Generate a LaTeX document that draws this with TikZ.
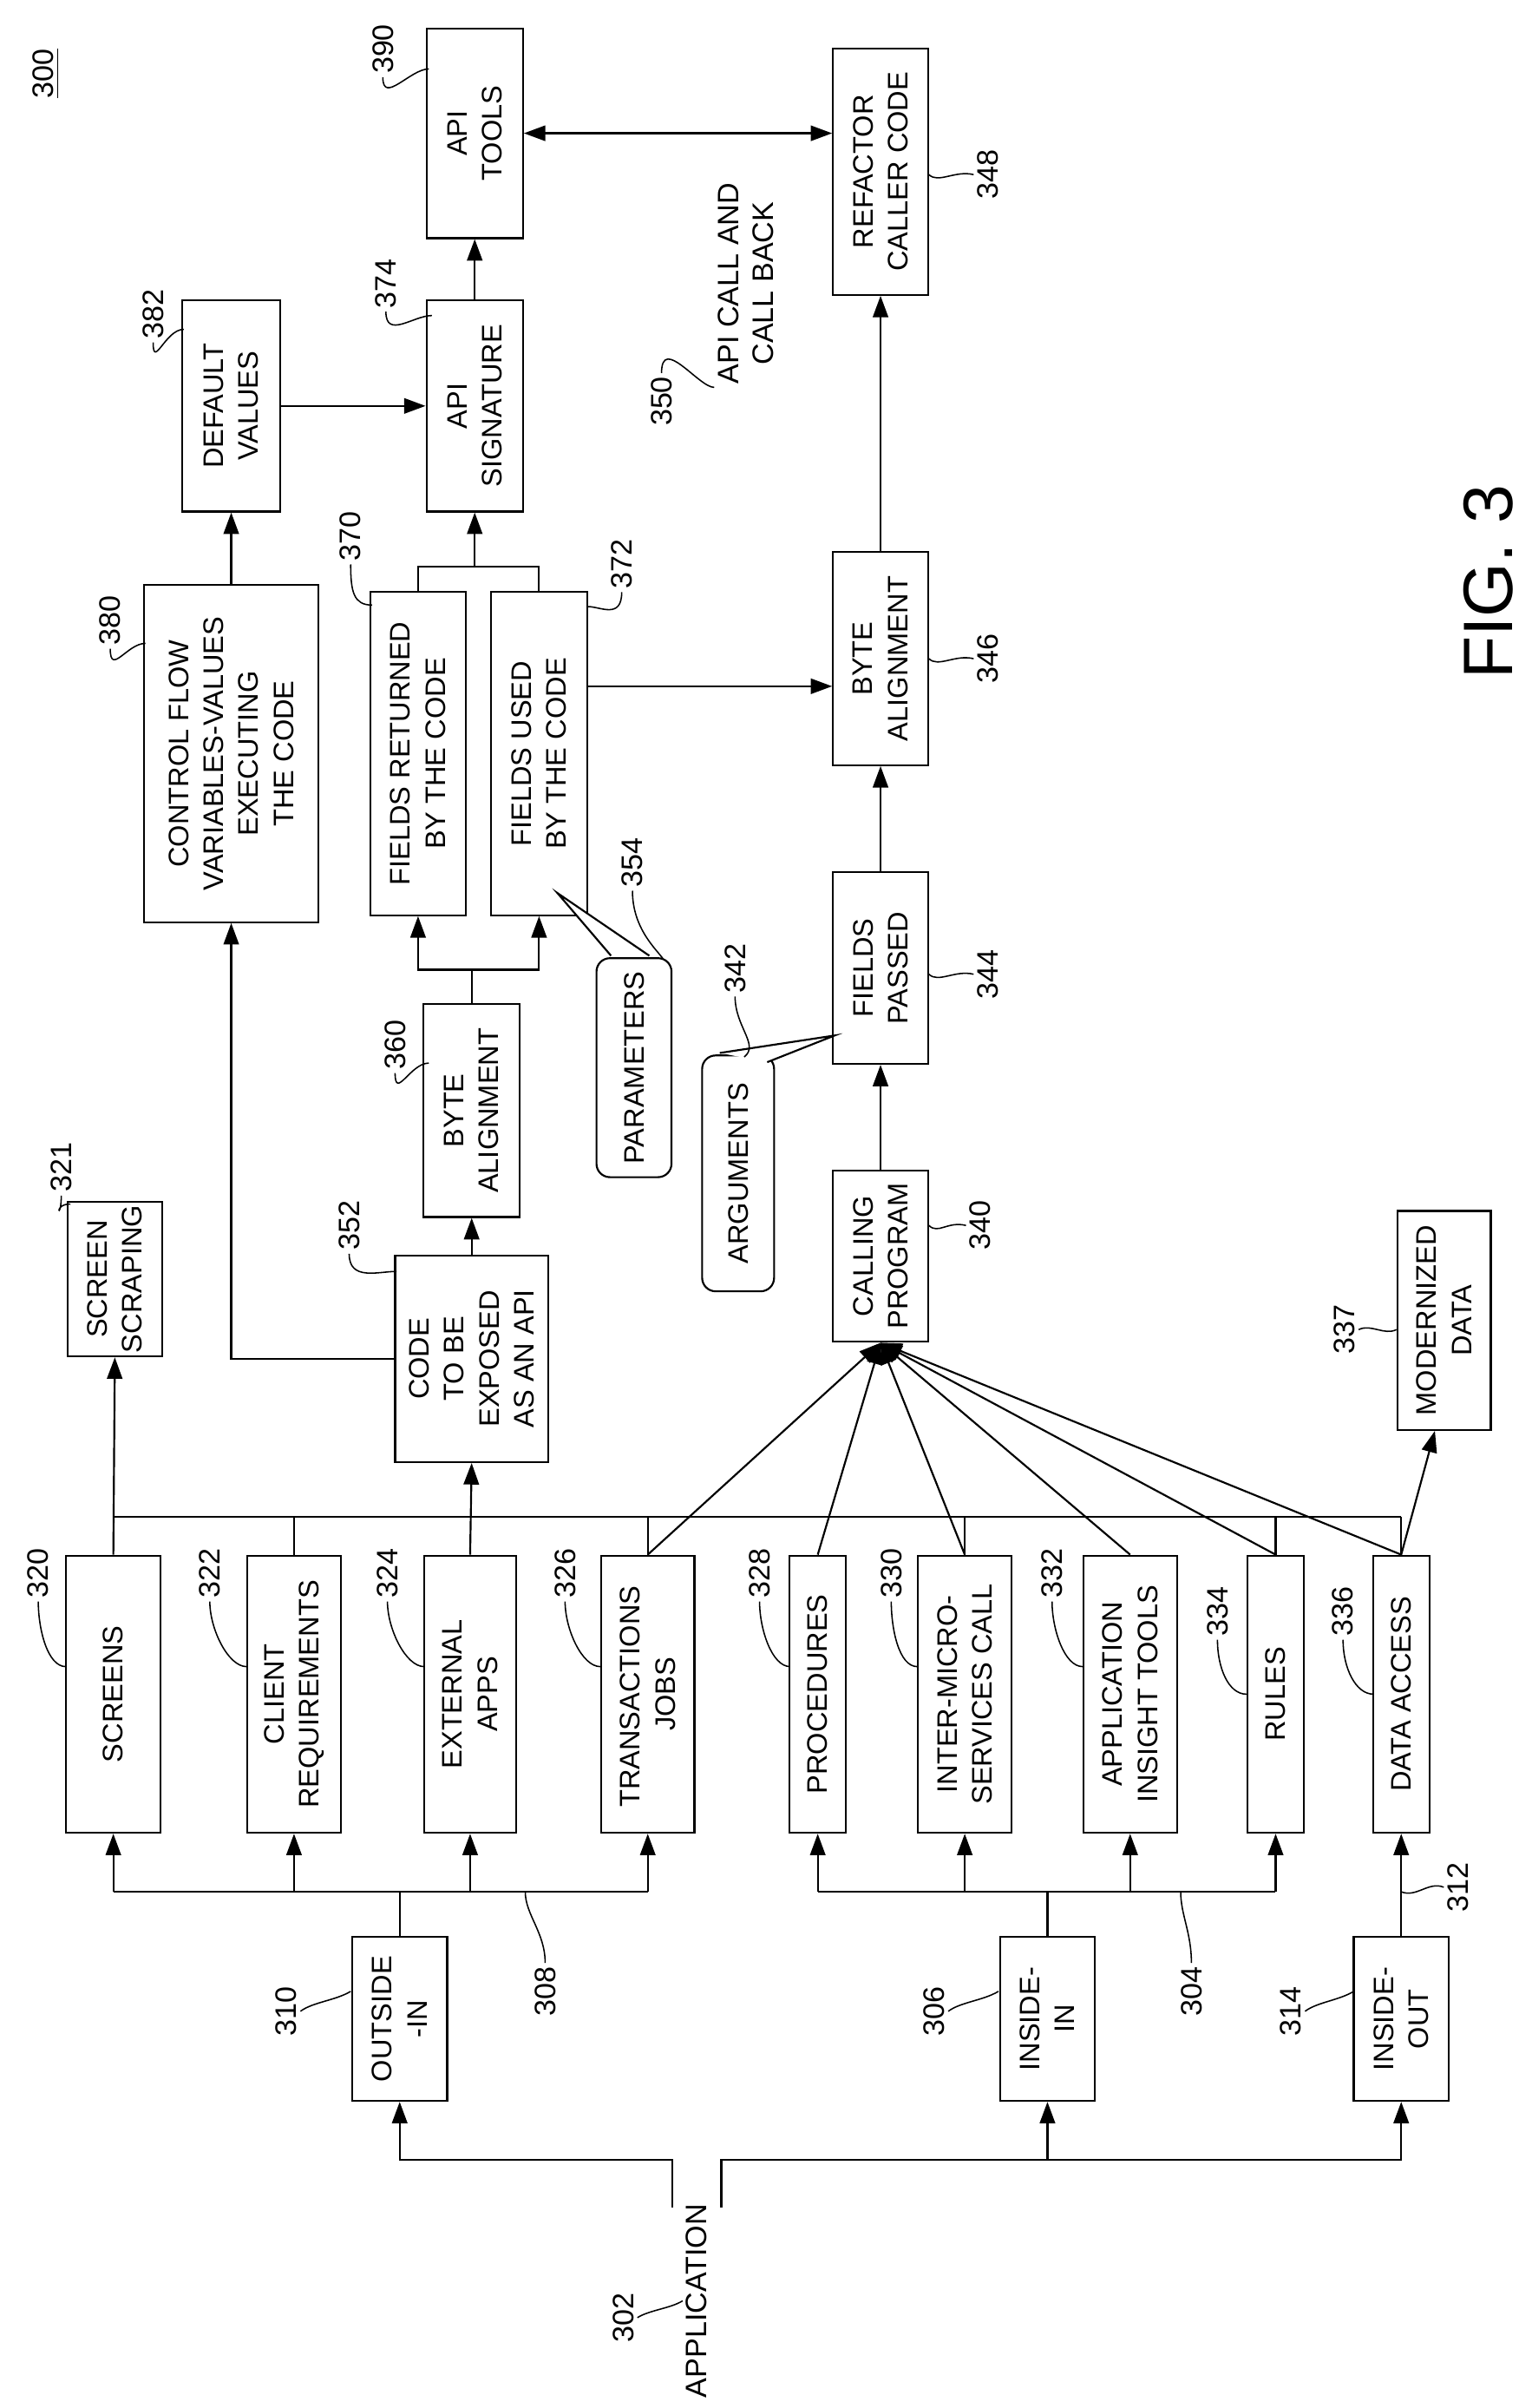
\documentclass[tikz,border=0pt]{standalone}
\usepackage{fontspec}
\setmainfont{Liberation Sans}
\usetikzlibrary{arrows.meta}
\tikzset{
  blk/.style={draw, rotate=90, align=center, inner sep=1pt, font=\fontsize{10.5}{13}\selectfont},
  callout/.style={blk, rounded corners=5pt, fill=white},
  num/.style={rotate=90, inner sep=1pt, font=\fontsize{11}{13}\selectfont},
  arr/.style={-{Triangle[length=2.8mm,width=2mm]}},
  lead/.style={line width=0.5pt}
}
\begin{document}
\begin{tikzpicture}[x=0.02cm, y=-0.02cm, line width=0.7pt]
\useasboundingbox (0,0) rectangle (1000,1572);
% upper part
\node[blk, minimum width=2.74cm, minimum height=1.26cm] (apitools) at (310,87) {API\\TOOLS};
\node[blk, minimum width=3.22cm, minimum height=1.24cm] (refactor) at (575,112) {REFACTOR\\CALLER CODE};
\node[blk, minimum width=2.76cm, minimum height=1.28cm] (default) at (151,265) {DEFAULT\\VALUES};
\node[blk, minimum width=2.76cm, minimum height=1.26cm] (apisig) at (310,265) {API\\SIGNATURE};
\node[blk, minimum width=4.4cm, minimum height=2.28cm] (control) at (151,492) {CONTROL FLOW\\VARIABLES-VALUES\\EXECUTING\\THE CODE};
\node[blk, minimum width=4.22cm, minimum height=1.24cm] (fret) at (273,492) {FIELDS RETURNED\\BY THE CODE};
\node[blk, minimum width=4.22cm, minimum height=1.26cm] (fused) at (352,492) {FIELDS USED\\BY THE CODE};
\node[blk, minimum width=2.78cm, minimum height=1.24cm] (ba346) at (575,430) {BYTE\\ALIGNMENT};
\node[blk, minimum width=2.5cm, minimum height=1.24cm] (fp344) at (575,632) {FIELDS\\PASSED};
\node[blk, minimum width=2.24cm, minimum height=1.24cm] (cp) at (575,820) {CALLING\\PROGRAM};
\node[blk, minimum width=2.78cm, minimum height=1.26cm] (ba360) at (308,725) {BYTE\\ALIGNMENT};
\node[blk, minimum width=2.7cm, minimum height=2.0cm] (code) at (308,887) {CODE\\TO BE\\EXPOSED\\AS AN API};
\node[blk, minimum width=2.02cm, minimum height=1.24cm] (scrape) at (75,835) {SCREEN\\SCRAPING};
\node[blk, minimum width=2.86cm, minimum height=1.22cm] (modern) at (943,862) {MODERNIZED\\DATA};
\node[num, align=center] (apicall) at (487,185) {API CALL AND\\CALL BACK};
% callouts
\coordinate (ptip) at (364,583);
\coordinate (atip) at (545,676);
\node[callout, minimum width=2.86cm, minimum height=0.98cm] (param) at (414,697) {PARAMETERS};
\node[callout, minimum width=3.08cm, minimum height=0.94cm] (argum) at (482,766) {ARGUMENTS};
\draw[fill=white] ([xshift=-0.3cm,yshift=0.02cm]param.east) -- (ptip) -- ([xshift=0.2cm,yshift=0.02cm]param.east);
\draw[fill=white] ([xshift=-0.24cm,yshift=0.02cm]argum.east) -- (atip) -- ([xshift=0.38cm,yshift=-0.1cm]argum.east);
% lower part
\foreach \n/\x/\w/\t in {screens/74/1.24/SCREENS, client/192/1.22/CLIENT\\REQUIREMENTS,
  ext/307/1.2/EXTERNAL\\APPS, trans/423/1.22/TRANSACTIONS\,\\JOBS, proc/534/0.74/PROCEDURES,
  inter/630/1.22/INTER-MICRO-\\SERVICES CALL, appins/738/1.22/APPLICATION\\INSIGHT TOOLS,
  rules/833/0.74/RULES, data/915/0.74/DATA ACCESS}
  \node[blk, minimum width=3.62cm, minimum height=\w cm] (\n) at (\x,1106) {\t};
\node[blk, minimum width=2.14cm, minimum height=1.24cm] (outin) at (261,1318) {OUTSIDE\\-IN};
\node[blk, minimum width=2.14cm, minimum height=1.24cm] (inin) at (684,1318) {INSIDE-\\IN};
\node[blk, minimum width=2.14cm, minimum height=1.24cm] (inout) at (915,1318) {INSIDE-\\OUT};
\node[num] (appl) at (455,1502) {APPLICATION};
\coordinate (appL) at (439,1441);
\coordinate (appR) at (471,1441);
\coordinate (bus) at (0,990);
\coordinate (bus2) at (0,1235);
% connectors
\draw[arr] (apisig.east) -- (apitools.west);
\draw[{Triangle[length=2.8mm,width=2mm]}-{Triangle[length=2.8mm,width=2mm]}] (apitools.south) -- (apitools.south -| refactor.north);
\draw[arr] (default.south) -- (apisig.north);
\draw[arr] (control.east) -- (default.west);
\draw[arr] (code.north) -| (control.west);
\draw[arr] (code.east) -- (ba360.west);
\coordinate (sp1) at (308,633);
\draw (ba360.east) -- (sp1);
\draw[arr] (sp1) -| (fret.west);
\draw[arr] (sp1) -| (fused.west);
\coordinate (sp2) at (310,370);
\draw (fret.east) -- (fret.east |- sp2) -- (fused.east |- sp2) -- (fused.east);
\draw[arr] (sp2) -- (apisig.west);
\draw[arr] ([yshift=0.88cm]fused.south) -- ([yshift=0.88cm]fused.south -| ba346.north);
\draw[arr] (cp.east) -- (fp344.west);
\draw[arr] (fp344.east) -- (ba346.west);
\draw[arr] (ba346.east) -- (refactor.west);
\draw (screens.east |- bus) -- (data.east |- bus);
\foreach \n in {client,trans,inter,rules,data} \draw (\n.east) -- (\n.east |- bus);
\draw[arr] (screens.east) -- (scrape.west);
\draw[arr] (ext.east) -- (code.west);
\foreach \n in {trans,proc,inter,appins,rules,data} \draw[arr] (\n.east) -- (cp.west);
\draw[arr] (data.east) -- ([xshift=-0.12cm]modern.west);
\draw (screens.west |- bus2) -- (trans.west |- bus2);
\foreach \n in {screens,client,ext,trans} \draw[arr] (\n.west |- bus2) -- (\n.west);
\draw (outin.east) -- (outin.east |- bus2);
\draw (proc.west |- bus2) -- (rules.west |- bus2);
\foreach \n in {proc,inter,appins,rules} \draw[arr] (\n.west |- bus2) -- (\n.west);
\draw (inin.east) -- (inin.east |- bus2);
\draw[arr] (inout.east) -- (data.west);
\draw[arr] (appL) -- ++(0,-31) -| (outin.west);
\draw[arr] (appR) -- ++(0,-31) -| (inout.west);
\draw[arr] (inin.west |- 0,1410) -- (inin.west);
% reference numerals
\node[num] (l300) at (30,48) {\underline{300}};
\node[num, font=\fontsize{26}{30}\selectfont] (fig) at (972,380) {FIG. 3};
\foreach \l/\x/\y/\b/\bx/\by in {390/250/32/apitools/280/45, 374/252/185/apisig/282/206,
  382/100/205/default/120/215, 380/72/405/control/95/420, 370/229/350/fret/243/395,
  360/258/682/ba360/280/694, 352/228/800/code/259/830, 321/40/762/scrape/46/786,
  320/25/1027/screens/43/1088, 322/137/1027/client/161/1088, 324/253/1027/ext/277/1088,
  326/369/1027/trans/392/1088, 328/496/1027/proc/516/1088, 330/582/1027/inter/599/1088,
  332/687/1027/appins/707/1088, 334/795/1052/rules/814/1106, 336/877/1052/data/897/1106}
  {\node[num] (l\l) at (\x,\y) {\l};
   \draw[lead] (l\l.west) .. controls +(0,18) and +(-12,0) .. (\bx,\by);}
\node[num] (l372) at (406,368) {372};
\draw[lead] (l372.west) .. controls +(0,18) and +(8,0) .. (384,396);
\node[num] (l354) at (413,563) {354};
\draw[lead] (l354.west) .. controls +(0,25) and +(-4,-6) .. (433,626);
\node[num] (l342) at (480,632) {342};
\draw[lead] (l342.west) .. controls +(0,20) and +(10,-8) .. (486,690);
\node[num] (l350) at (432,262) {350};
\draw[lead] (l350.east) .. controls +(0,-25) and +(-10,0) .. (apicall.north west);
\foreach \l/\x/\y/\b in {348/645/114/refactor, 346/645/430/ba346, 344/645/636/fp344, 340/640/800/cp}
  {\node[num] (l\l) at (\x,\y) {\l};
   \draw[lead] (l\l.north) .. controls +(-12,-3) and +(6,6) .. (\b.south |- l\l.north);}
\node[num] (l337) at (878,868) {337};
\draw[lead] (l337.south) .. controls +(8,-4) and +(-8,4) .. (modern.north |- l337.south);
\foreach \l/\x/\y/\tx/\ty in {310/187/1313/229/1300, 306/610/1313/652/1300, 314/843/1313/884/1300}
  {\node[num] (l\l) at (\x,\y) {\l};
   \draw[lead] (l\l.south) .. controls +(8,-6) and +(-10,6) .. (\tx,\ty);}
\node[num] (l308) at (356,1300) {308};
\draw[lead] (l308.east) .. controls +(0,-20) and +(0,15) .. (343,1235);
\node[num] (l304) at (778,1300) {304};
\draw[lead] (l304.east) .. controls +(0,-20) and +(0,15) .. (771,1235);
\node[num] (l312) at (952,1232) {312};
\draw[lead] (l312.north) .. controls +(-10,-4) and +(10,4) .. (915,1235);
\node[num] (l302) at (407,1513) {302};
\draw[lead] (l302.south) .. controls +(8,-5) and +(-8,5) .. (appl.north);
\end{tikzpicture}
\end{document}
